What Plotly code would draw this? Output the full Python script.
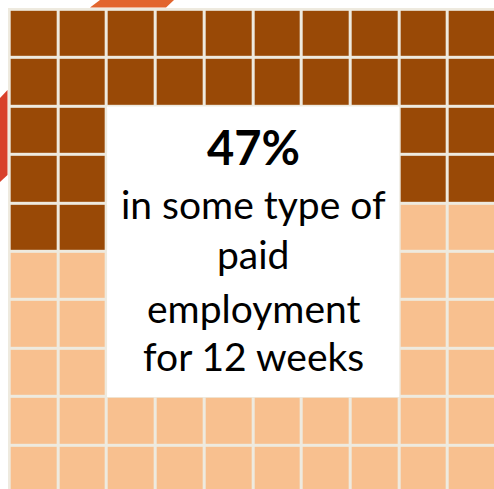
import plotly.graph_objects as go

# ---- data ----
categories = ["In paid employment", "Not in paid employment"]
percent_values = [47, 53]
grid_rows = 10
grid_cols = 10
headline = "47%"
caption_lines = ["in some type of", "paid", "employment", "for 12 weeks"]

# ---- styles ----
DARK = "#994906"
LIGHT = "#F8C08F"
GAP = "#EEEADF"

# build waffle cells (row-wise fill)
filled = percent_values[0]
z = [[1 if r * grid_cols + c < filled else 0 for c in range(grid_cols)] for r in range(grid_rows)]

fig = go.Figure(go.Heatmap(
    z=z,
    x=list(range(grid_cols)),
    y=list(range(grid_rows)),
    colorscale=[[0, LIGHT], [0.5, LIGHT], [0.5, DARK], [1, DARK]],
    zmin=0, zmax=1,
    showscale=False,
    xgap=3, ygap=3,
    hoverinfo="skip",
))

W, H = 494, 489
ML, MT = 8, 8

def px(xp):
    return (xp - ML) / (W - ML)

def py(yp):
    return 1 - (yp - MT) / (H - MT)

shapes = [
    # white centre box
    dict(type="rect", xref="x", yref="y", x0=1.5, x1=7.5, y0=1.5, y1=7.5,
         fillcolor="white", line=dict(width=0), layer="above"),
    # background image fragments peeking out at the top-left
    dict(type="path", xref="paper", yref="paper",
         path=f"M {px(90)},{py(7.5)} L {px(100)},{py(0)} L {px(174)},{py(0)} L {px(166)},{py(7.5)} Z",
         fillcolor="#E2652E", line=dict(width=0)),
    dict(type="path", xref="paper", yref="paper",
         path=f"M {px(0)},{py(98)} L {px(7.5)},{py(90)} L {px(7.5)},{py(175)} L {px(0)},{py(182)} Z",
         fillcolor="#D8402A", line=dict(width=0)),
]

FONT = "Lato"
annotations = [
    dict(x=4.5, y=(147 - 34) / 48.4, xref="x", yref="y", text=f"<b>{headline}</b>",
         showarrow=False, font=dict(family=FONT, size=47, color="black"), yanchor="middle"),
]
centers = [207, 257, 311, 359]
for line, c in zip(caption_lines, centers):
    annotations.append(dict(x=4.5, y=(c - 3 - 34) / 48.4, xref="x", yref="y", text=line,
                            showarrow=False, font=dict(family=FONT, size=39, color="black"),
                            yanchor="middle"))

fig.update_layout(
    width=W, height=H,
    margin=dict(l=ML, r=0, t=MT, b=0, pad=0),
    paper_bgcolor="white",
    plot_bgcolor=GAP,
    xaxis=dict(range=[-0.534, 9.445], visible=False, fixedrange=True),
    yaxis=dict(range=[9.40, -0.537], visible=False, fixedrange=True),
    shapes=shapes,
    annotations=annotations,
    showlegend=False,
)

fig.write_html("out.html", config={"displayModeBar": False},
               post_script="document.body.style.margin='0';document.body.style.overflow='hidden';")
